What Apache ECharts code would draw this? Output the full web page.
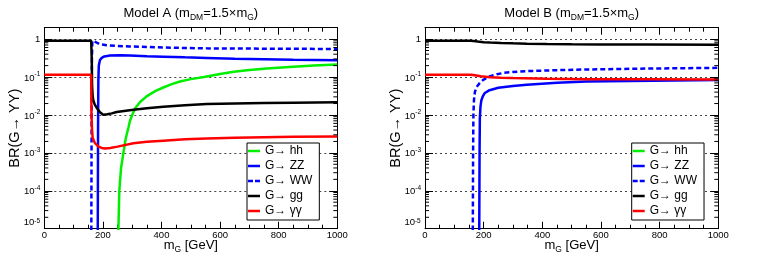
<!DOCTYPE html>
<html><head><meta charset="utf-8">
<script src="https://cdn.jsdelivr.net/npm/echarts@6/dist/echarts.min.js"></script>
<style>html,body{margin:0;padding:0;background:#fff}#c{width:763px;height:257px}</style>
</head><body><div id="c"></div>
<script>
// ---------- data ----------
const seriesNames = ['G→ hh', 'G→ ZZ', 'G→ WW', 'G→ gg', 'G→ γγ'];
const panelTitles = ['Model A (m{s|DM}=1.5×m{s|G})', 'Model B (m{s|DM}=1.5×m{s|G})'];
const xTickValues = [0, 200, 400, 600, 800, 1000];
const yDecades = [-5, -4, -3, -2, -1, 0];
const minorMultipliers = [2, 3, 4, 5, 6, 7, 8, 9];

// Model A  [mG, BR]
const modelA_hh = [[249,1e-8],[253,1e-5],[256,1e-4],[262,4e-4],[270,1e-3],[276,2e-3],[281,3e-3],[287,4.6e-3],[292,6.8e-3],[300,0.01],[310,0.015],[327,0.022],[349,0.031],[380,0.043],[406,0.053],[435,0.065],[463,0.076],[500,0.088],[545,0.1],[600,0.12],[646,0.137],[700,0.153],[759,0.168],[850,0.188],[920,0.202],[1000,0.214]];
const modelA_ZZ = [[181,1e-8],[182.5,1e-5],[183.5,0.005],[184.5,0.08],[186,0.2],[190,0.28],[196,0.32],[205,0.35],[224,0.37],[260,0.375],[292,0.37],[350,0.355],[406,0.345],[480,0.33],[554,0.32],[650,0.305],[750,0.295],[850,0.285],[1000,0.275]];
const modelA_WW = [[158,1e-8],[160.5,1e-5],[161.5,0.01],[162.5,0.3],[164,0.9],[166,1.0],[170,0.93],[175,0.84],[180,0.78],[190,0.73],[213,0.69],[250,0.66],[292,0.64],[350,0.62],[406,0.6],[480,0.585],[554,0.57],[650,0.565],[750,0.56],[850,0.555],[1000,0.55]];
const modelA_gg = [[0,0.9],[160,0.9],[162,0.3],[163,0.06],[165,0.033],[167,0.025],[172,0.019],[179,0.0153],[190,0.0118],[201,0.0101],[215,0.0104],[230,0.011],[247,0.012],[304,0.0138],[350,0.015],[406,0.0165],[480,0.018],[554,0.0194],[650,0.02],[750,0.0206],[850,0.021],[1000,0.0215]];
const modelA_yy = [[0,0.115],[160,0.115],[161,0.01],[163,0.004],[165,0.0025],[173,0.0018],[185,0.00146],[196,0.00135],[207,0.0013],[225,0.00135],[250,0.00146],[304,0.0018],[350,0.00195],[406,0.0021],[480,0.0023],[554,0.0024],[650,0.0025],[750,0.0026],[850,0.00265],[1000,0.0027]];

// Model B  [mG, BR]
const modelB_ZZ = [[183,1e-8],[185,1e-5],[186,1e-3],[187,0.008],[189,0.016],[192,0.024],[197,0.031],[204,0.038],[220,0.045],[250,0.052],[300,0.058],[347,0.063],[450,0.071],[551,0.076],[700,0.079],[850,0.081],[1000,0.083]];
const modelB_WW = [[161,1e-8],[163,1e-5],[164,1e-3],[165,0.01],[167,0.025],[170,0.04],[175,0.052],[180,0.06],[187,0.07],[200,0.086],[222,0.105],[245,0.118],[267,0.128],[300,0.136],[347,0.143],[450,0.152],[551,0.158],[700,0.165],[850,0.17],[1000,0.175]];
const modelB_gg = [[0,0.9],[155,0.9],[165,0.89],[180,0.86],[200,0.83],[222,0.81],[260,0.79],[300,0.775],[347,0.76],[415,0.745],[500,0.735],[600,0.725],[750,0.72],[1000,0.715]];
const modelB_yy = [[0,0.115],[158,0.115],[170,0.112],[190,0.105],[222,0.099],[260,0.096],[300,0.094],[415,0.09],[550,0.088],[750,0.087],[1000,0.086]];

// ---------- styling / layout ----------
const FONT = 'Liberation Sans';
const colors = { hh: '#00ee00', ZZ: '#0000ff', WW: '#0000ff', gg: '#000000', yy: '#ff0000' };
const grids = [
  { left: 44.3, top: 27.7, width: 293, height: 201 },
  { left: 425, top: 27.7, width: 293.3, height: 201 }
];
const legendLefts = [247, 631.7];
const Y_MIN = 1e-5, Y_MAX = 2;

const minorTickValues = [];
yDecades.forEach(d => minorMultipliers.forEach(m => {
  const v = m * Math.pow(10, d);
  if (v < Y_MAX) minorTickValues.push([0, v]);
}));

function yLabel(v) {
  const e = Math.round(Math.log10(v));
  if (e === 0) return '1';
  if (e === -5) return '{lb|10}{ls|' + e + '}{pad| }';
  return '{b|10}{s|' + e + '}';
}

const dashIcon = 'path://M0,0H5V2.5H0Z M7,0H12V2.5H7Z';
const legendData = seriesNames.map(n => ({ name: n, icon: n === 'G→ WW' ? dashIcon : 'rect' }));

const xAxes = [], yAxes = [], series = [], titles = [], legends = [];
grids.forEach((g, gi) => {
  const cx = g.left + g.width / 2;
  titles.push({
    text: panelTitles[gi], left: cx, top: 4, textAlign: 'center', padding: 0,
    textStyle: { fontSize: 13, fontWeight: 'normal', color: '#000', fontFamily: FONT, lineHeight: 18,
      rich: { s: { fontSize: 8.5, lineHeight: 9, verticalAlign: 'bottom', fontFamily: FONT, color: '#000' } } }
  });
  const baseX = {
    gridIndex: gi, type: 'value', min: 0, max: 1000, interval: 200,
    axisLine: { show: true, onZero: false, lineStyle: { color: '#000', width: 1 } },
    axisTick: { show: true, inside: true, length: 7, lineStyle: { color: '#000', width: 1 } },
    minorTick: { show: true, splitNumber: 4, length: 4, lineStyle: { color: '#000', width: 1 } },
    splitLine: { show: false }
  };
  xAxes.push(Object.assign({}, baseX, {
    position: 'bottom',
    axisLabel: { show: true, fontSize: 9.5, color: '#000', fontFamily: FONT, margin: 2, formatter: v => String(v) },
    name: 'm{s|G} [GeV]', nameLocation: 'middle', nameGap: 7.5, nameMoveOverlap: false,
    nameTextStyle: { fontSize: 13, color: '#000', fontFamily: FONT, lineHeight: 18,
      rich: { s: { fontSize: 8.5, lineHeight: 9, verticalAlign: 'bottom', fontFamily: FONT, color: '#000' } } }
  }));
  xAxes.push(Object.assign({}, baseX, { position: 'top', axisLabel: { show: false } }));
  const baseY = {
    gridIndex: gi, type: 'log', logBase: 10, min: Y_MIN, max: Y_MAX,
    axisLine: { show: true, onZero: false, lineStyle: { color: '#000', width: 1 } },
    axisTick: { show: true, inside: true, length: 8, lineStyle: { color: '#000', width: 1 } }
  };
  yAxes.push(Object.assign({}, baseY, {
    position: 'left',
    axisLabel: { show: true, showMaxLabel: false, margin: 4, color: '#000', fontFamily: FONT, fontSize: 9.5, lineHeight: 12,
      formatter: yLabel,
      rich: {
        b: { fontSize: 9.5, lineHeight: 6, verticalAlign: 'bottom', fontFamily: FONT, color: '#000' },
        s: { fontSize: 6.5, lineHeight: 12, verticalAlign: 'top', fontFamily: FONT, color: '#000' },
        lb: { fontSize: 9.5, lineHeight: 8, verticalAlign: 'top', fontFamily: FONT, color: '#000' },
        ls: { fontSize: 6.5, lineHeight: 2, verticalAlign: 'top', fontFamily: FONT, color: '#000' },
        pad: { fontSize: 1, lineHeight: 22, fontFamily: FONT }
      } },
    splitLine: { show: true, lineStyle: { color: '#444', width: 1, type: [2, 3] } },
    name: 'BR(G→ YY)', nameLocation: 'middle', nameGap: 22, nameRotate: 90, nameMoveOverlap: false,
    nameTextStyle: { fontSize: 14.5, color: '#000', fontFamily: FONT }
  }));
  yAxes.push(Object.assign({}, baseY, { position: 'right', axisLabel: { show: false }, splitLine: { show: false } }));

  const xi = gi * 2, yi = gi * 2;
  const mk = (name, data, color, dashed) => ({
    type: 'line', name, xAxisIndex: xi, yAxisIndex: yi, data, symbol: 'none', showSymbol: false,
    clip: true, animation: false, silent: true,
    lineStyle: { color, width: 2.5, type: dashed ? [5, 3] : 'solid' }, itemStyle: { color }
  });
  if (gi === 0) {
    series.push(mk(seriesNames[0], modelA_hh, colors.hh));
    series.push(mk(seriesNames[1], modelA_ZZ, colors.ZZ));
    series.push(mk(seriesNames[2], modelA_WW, colors.WW, true));
    series.push(mk(seriesNames[3], modelA_gg, colors.gg));
    series.push(mk(seriesNames[4], modelA_yy, colors.yy));
  } else {
    series.push(mk(seriesNames[1], modelB_ZZ, colors.ZZ));
    series.push(mk(seriesNames[2], modelB_WW, colors.WW, true));
    series.push(mk(seriesNames[3], modelB_gg, colors.gg));
    series.push(mk(seriesNames[4], modelB_yy, colors.yy));
  }
  // minor log ticks on left & right frame
  series.push({
    type: 'custom', xAxisIndex: xi, yAxisIndex: yi, silent: true, animation: false, clip: false,
    data: minorTickValues, z: 5,
    renderItem: function (params, api) {
      const v = api.value(1);
      const a = api.coord([0, v]), b = api.coord([1000, v]);
      return { type: 'group', children: [
        { type: 'line', shape: { x1: a[0], y1: a[1], x2: a[0] + 4, y2: a[1] }, style: { stroke: '#000', lineWidth: 1 } },
        { type: 'line', shape: { x1: b[0] - 4, y1: b[1], x2: b[0], y2: b[1] }, style: { stroke: '#000', lineWidth: 1 } }
      ] };
    }
  });
  legends.push({
    left: legendLefts[gi], top: 143, orient: 'vertical', selectedMode: false,
    data: legendData, itemWidth: 12, itemHeight: 2.5, itemGap: 3,
    padding: [2, 7, 3, 1], borderColor: '#000', borderWidth: 1, backgroundColor: '#fff',
    textStyle: { fontSize: 12, color: '#000', fontFamily: FONT }
  });
});

const chart = echarts.init(document.getElementById('c'), null, { renderer: 'canvas' });
chart.setOption({
  animation: false,
  backgroundColor: '#fff',
  title: titles,
  legend: legends,
  grid: grids.map(g => Object.assign({ containLabel: false, outerBoundsMode: 'none' }, g)),
  xAxis: xAxes,
  yAxis: yAxes,
  series: series
});
</script></body></html>
